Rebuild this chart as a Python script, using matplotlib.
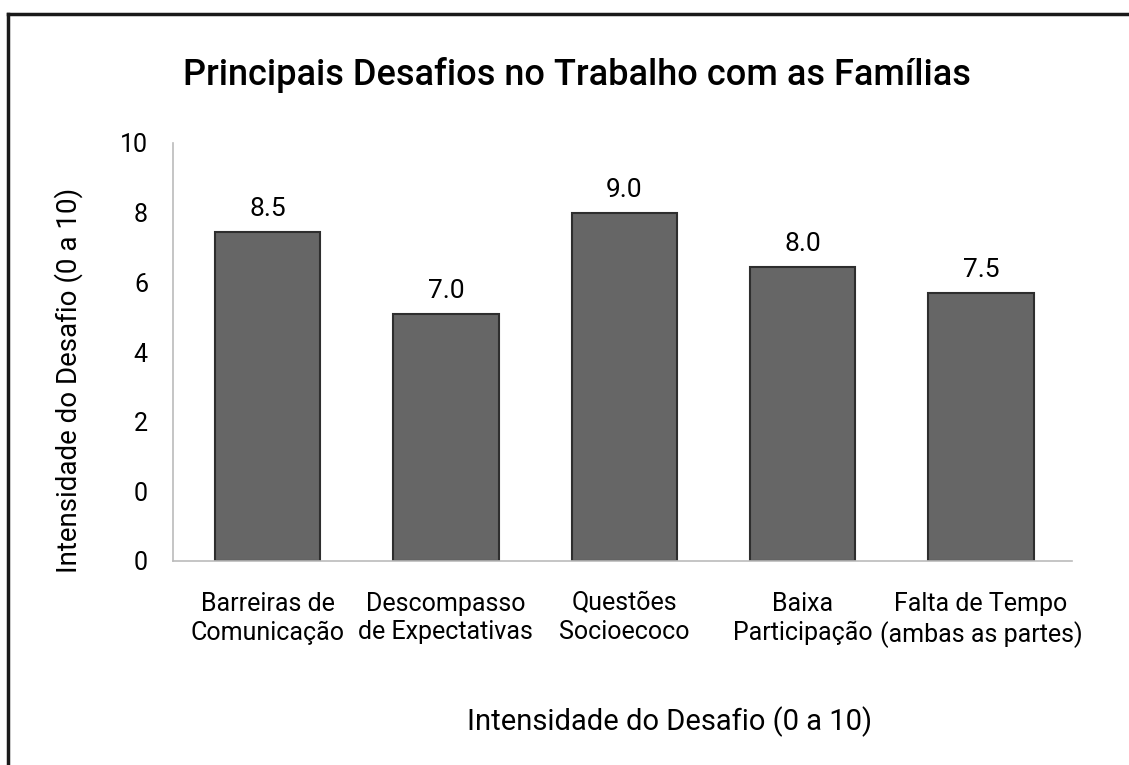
import matplotlib.pyplot as plt
from matplotlib.lines import Line2D

# data (bar heights on the drawn scale, labels as printed)
categories = ['Barreiras de\nComunicação', 'Descompasso\nde Expectativas',
              'Questões\nSocioecoco', 'Baixa\nParticipação',
              'Falta de Tempo\n(ambas as partes)']
heights = [9.45, 7.1, 10.0, 8.45, 7.7]
value_labels = ['8.5', '7.0', '9.0', '8.0', '7.5']
ytick_vals = [0, 2, 4, 6, 8, 10, 12]
ytick_text = ['0', '0', '2', '4', '6', '8', '10']

plt.rcParams['font.family'] = ['Roboto', 'DejaVu Sans']

W, H = 1129, 765
fig = plt.figure(figsize=(W / 100, H / 100), dpi=100)
ax = fig.add_axes([173 / W, 1 - 561 / H, (1072 - 173) / W, (561 - 143) / H])

x = list(range(len(categories)))
bars = ax.bar(x, heights, width=0.59, color='#666666',
              edgecolor='#2e2e2e', linewidth=1.5)
for b, t in zip(bars, value_labels):
    ax.annotate(t, (b.get_x() + b.get_width() / 2, b.get_height()),
                xytext=(0, 8), textcoords='offset points',
                ha='center', va='bottom', fontsize=19)

ax.set_xlim(-0.53, 4.51)
ax.set_ylim(0, 12)
ax.set_yticks(ytick_vals)
ax.set_yticklabels(ytick_text, fontsize=18)
ax.set_xticks(x)
ax.set_xticklabels(categories, fontsize=18, linespacing=1.25)
ax.tick_params(length=0)
ax.tick_params(axis='y', pad=18)
ax.tick_params(axis='x', pad=22)

for s in ['top', 'right']:
    ax.spines[s].set_visible(False)
for s in ['left', 'bottom']:
    ax.spines[s].set_color('#bbbbbb')
    ax.spines[s].set_linewidth(1.2)

fig.text(69 / W, 1 - 380 / H, 'Intensidade do Desafio (0 a 10)', rotation=90,
         ha='center', va='center', fontsize=20)
fig.text(670 / W, 1 - 722 / H, 'Intensidade do Desafio (0 a 10)',
         ha='center', va='center', fontsize=21)

fig.text(577 / W, 1 - 75 / H, 'Principais Desafios no Trabalho com as Famílias',
         ha='center', va='center', fontsize=26, fontweight='medium')

# frame lines at top and left of the picture
fig.add_artist(Line2D([8 / W, 1], [1 - 14 / H, 1 - 14 / H], color='#1a1a1a', lw=2.5))
fig.add_artist(Line2D([8 / W, 8 / W], [0, 1 - 14 / H], color='#1a1a1a', lw=2.5))

fig.savefig('out.png', dpi=100)
